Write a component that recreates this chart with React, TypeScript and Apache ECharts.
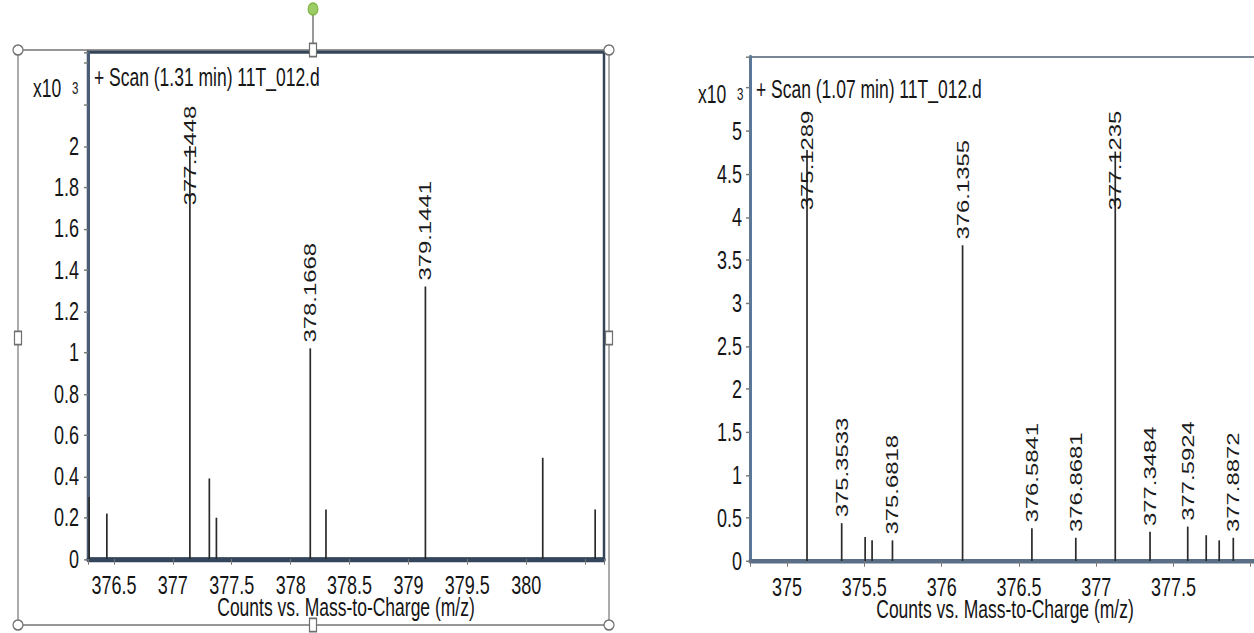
import React, { useEffect, useRef } from "react";
import * as echarts from "echarts";

// ---------- data ----------
const leftTitle = "+ Scan (1.31 min) 11T_012.d";
const leftMz = [376.29, 376.44, 377.1448, 377.31, 377.37, 378.1668, 378.3, 379.1441, 380.14, 380.585];
const leftCounts = [0.3, 0.22, 2.0, 0.39, 0.2, 1.02, 0.24, 1.32, 0.49, 0.24];
const leftLabeled = [false, false, true, false, false, true, false, true, false, false];
const leftXRange = [376.28, 380.66];
const leftYRange = [0, 2.455];

const rightTitle = "+ Scan (1.07 min) 11T_012.d";
const rightMz = [375.1289, 375.3533, 375.505, 375.55, 375.6818, 376.1355, 376.5841, 376.8681, 377.1235, 377.3484, 377.5924, 377.712, 377.796, 377.8872];
const rightCounts = [4.78, 0.44, 0.28, 0.24, 0.24, 3.67, 0.38, 0.27, 4.76, 0.34, 0.4, 0.3, 0.24, 0.27];
const rightLabeled = [true, true, false, false, true, true, true, true, true, true, true, false, false, true];
const rightXRange = [374.76, 378.06];
const rightYRange = [0, 5.86];

const xName = "Counts vs. Mass-to-Charge (m/z)";
const yScaleText = "x10";
const yScaleExp = "3";

// ---------- layout (drawn unstretched, then stretched vertically) ----------
const W = 1254;
const H = 437;
const S = 633 / H;
const FONT = '"Liberation Sans", Arial, Helvetica, sans-serif';
const LABEL_SIZE = 16.5;
const LABEL_GAP = 4;
const LABEL_CEILING = 37;

let measureCtx: CanvasRenderingContext2D | null = null;
function textWidth(t: string, size: number) {
  if (!measureCtx) measureCtx = document.createElement("canvas").getContext("2d");
  if (!measureCtx) return t.length * size * 0.52;
  measureCtx.font = `${size}px ${FONT}`;
  return measureCtx.measureText(t).width;
}

function makeRenderer(mz: number[], labeled: boolean[]) {
  return (params: any, api: any) => {
    const i = params.dataIndex;
    const x = api.value(0);
    const y = api.value(1);
    const base = api.coord([x, 0]);
    const top = api.coord([x, y]);
    const children: any[] = [
      {
        type: "line",
        shape: { x1: base[0], y1: base[1], x2: top[0], y2: top[1] },
        style: { stroke: "#2a2a2a", lineWidth: 1.7 },
      },
    ];
    if (labeled[i]) {
      const text = mz[i].toFixed(4);
      const len = textWidth(text, LABEL_SIZE);
      const ceiling = params.coordSys.y + LABEL_CEILING;
      let anchor = top[1] - LABEL_GAP;
      let align = "left";
      if (anchor - len < ceiling) {
        anchor = ceiling;
        align = "right";
      }
      children.push({
        type: "text",
        x: top[0],
        y: anchor,
        rotation: Math.PI / 2,
        style: {
          text,
          align,
          verticalAlign: "middle",
          fontSize: LABEL_SIZE,
          fontFamily: FONT,
          fill: "#1a1a1a",
        },
      });
    }
    return { type: "group", children };
  };
}

const onStep = (v: number, step: number) => Math.abs(v / step - Math.round(v / step)) < 1e-6;

export default function App() {
  const ref = useRef<HTMLDivElement>(null);
  useEffect(() => {
    if (!ref.current) return;
    const chart = echarts.init(ref.current, null, { renderer: "svg" });
    const sy = (v: number) => v / S;

    const axisLabel = { fontSize: 18, color: "#151515", fontFamily: FONT };
    const tick = { show: true, length: 4, lineStyle: { color: "#777", width: 1 } };

    const handleEllipse = (cx: number, cy: number) => ({
      type: "ellipse",
      shape: { cx, cy: sy(cy), rx: 5, ry: sy(5) },
      style: { fill: "#fff", stroke: "#6f6f6f", lineWidth: 1.2 },
      z: 20,
    });
    const handleSquare = (cx: number, cy: number) => ({
      type: "rect",
      shape: { x: cx - 3.5, y: sy(cy) - 4.5, width: 7, height: 9 },
      style: { fill: "#fff", stroke: "#6f6f6f", lineWidth: 1.2 },
      z: 20,
    });

    const xAxisCommon = (range: number[], color: string) => ({
      type: "value",
      min: range[0],
      max: range[1],
      minInterval: 0.5,
      maxInterval: 0.5,
      axisLine: { lineStyle: { color, width: 3.2 } },
      axisTick: tick,
      splitLine: { show: false },
      axisLabel: {
        ...axisLabel,
        lineHeight: 14,
        margin: 11,
        formatter: (v: number) => (onStep(v, 0.5) && v < range[1] - 0.2 ? String(v) : ""),
      },
      name: xName,
      nameLocation: "middle",
      nameGap: 26,
      nameMoveOverlap: false,
      nameTextStyle: { fontSize: 17.5, lineHeight: 14, color: "#151515" },
    });

    const option: any = {
      animation: false,
      backgroundColor: "#fff",
      textStyle: { fontFamily: FONT },
      grid: [
        {
          left: 88,
          top: sy(52),
          width: 516,
          height: sy(559) - sy(52),
          containLabel: false,
          outerBoundsMode: "none",
          show: true,
          borderColor: "#34455a",
          borderWidth: 2.5,
        },
        {
          left: 750,
          top: sy(57),
          width: 510,
          height: sy(561) - sy(57),
          containLabel: false,
          outerBoundsMode: "none",
          show: true,
          borderColor: "#7a8796",
          borderWidth: 1.5,
        },
      ],
      xAxis: [
        { ...xAxisCommon(leftXRange, "#34465c"), gridIndex: 0 },
        { ...xAxisCommon(rightXRange, "#5a6f86"), gridIndex: 1 },
      ],
      yAxis: [
        {
          type: "value",
          gridIndex: 0,
          min: leftYRange[0],
          max: leftYRange[1],
          minInterval: 0.2,
          maxInterval: 0.2,
          axisLine: { show: true, lineStyle: { color: "#4a5d75", width: 3 } },
          axisTick: tick,
          splitLine: { show: false },
          axisLabel: {
            ...axisLabel,
            margin: 9,
            formatter: (v: number) => (onStep(v, 0.2) && v < 2.1 ? String(Math.round(v * 10) / 10) : ""),
          },
        },
        {
          type: "value",
          gridIndex: 1,
          min: rightYRange[0],
          max: rightYRange[1],
          minInterval: 0.5,
          maxInterval: 0.5,
          axisLine: { show: true, lineStyle: { color: "#5b7899", width: 3 } },
          axisTick: tick,
          splitLine: { show: false },
          axisLabel: {
            ...axisLabel,
            margin: 8,
            formatter: (v: number) => (onStep(v, 0.5) && v < 5.1 ? String(v) : ""),
          },
        },
      ],
      series: [
        {
          type: "custom",
          xAxisIndex: 0,
          yAxisIndex: 0,
          data: leftMz.map((m, i) => [m, leftCounts[i]]),
          encode: { x: 0, y: 1 },
          renderItem: makeRenderer(leftMz, leftLabeled),
        },
        {
          type: "custom",
          xAxisIndex: 1,
          yAxisIndex: 1,
          data: rightMz.map((m, i) => [m, rightCounts[i]]),
          encode: { x: 0, y: 1 },
          renderItem: makeRenderer(rightMz, rightLabeled),
        },
      ],
      graphic: [
        {
          type: "text",
          x: 94,
          y: sy(77),
          style: { text: leftTitle, fontSize: 17.5, fontFamily: FONT, fill: "#151515", verticalAlign: "middle" },
          z: 10,
        },
        {
          type: "text",
          x: 756,
          y: sy(89),
          style: { text: rightTitle, fontSize: 17.5, fontFamily: FONT, fill: "#151515", verticalAlign: "middle" },
          z: 10,
        },
        {
          type: "text",
          x: 33,
          y: sy(88),
          style: { text: yScaleText, fontSize: 17.5, fontFamily: FONT, fill: "#151515", verticalAlign: "middle" },
        },
        {
          type: "text",
          x: 72,
          y: sy(79),
          style: { text: yScaleExp, fontSize: 11.5, fontFamily: FONT, fill: "#151515", verticalAlign: "top" },
        },
        {
          type: "text",
          x: 698,
          y: sy(94),
          style: { text: yScaleText, fontSize: 17.5, fontFamily: FONT, fill: "#151515", verticalAlign: "middle" },
        },
        {
          type: "text",
          x: 737,
          y: sy(85),
          style: { text: yScaleExp, fontSize: 11.5, fontFamily: FONT, fill: "#151515", verticalAlign: "top" },
        },
        {
          type: "rect",
          shape: { x: 18, y: sy(50), width: 591, height: sy(625) - sy(50) },
          style: { fill: "none", stroke: "#767676", lineWidth: 1.2 },
          z: 15,
        },
        {
          type: "line",
          shape: { x1: 313, y1: sy(14), x2: 313, y2: sy(50) },
          style: { stroke: "#555", lineWidth: 1.2 },
          z: 15,
        },
        {
          type: "ellipse",
          shape: { cx: 313, cy: sy(9), rx: 5, ry: sy(6) },
          style: { fill: "#9ccc65", stroke: "#7cb342", lineWidth: 1 },
          z: 20,
        },
        handleEllipse(18, 50),
        handleEllipse(609, 50),
        handleEllipse(18, 625),
        handleEllipse(609, 625),
        handleSquare(313, 50),
        handleSquare(313, 625),
        handleSquare(18, 338),
        handleSquare(609, 338),
      ],
    };
    chart.setOption(option);
    return () => chart.dispose();
  }, []);

  return (
    <div
      ref={ref}
      style={{
        position: "fixed",
        left: 0,
        top: 0,
        width: W,
        height: H,
        transform: `scaleY(${S})`,
        transformOrigin: "0 0",
        background: "#fff",
      }}
    />
  );
}
